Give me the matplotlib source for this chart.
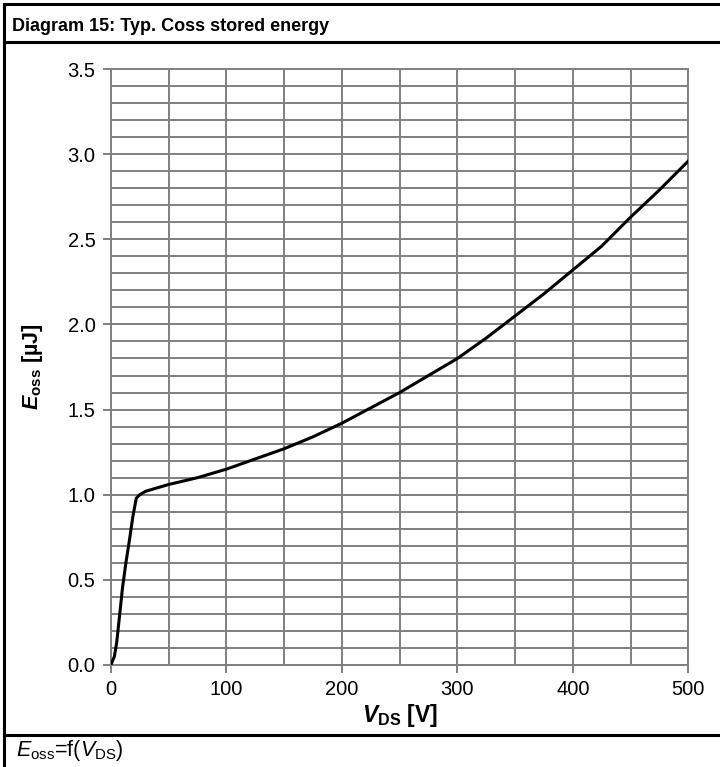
import matplotlib
matplotlib.use("Agg")
import matplotlib.pyplot as plt
from matplotlib.lines import Line2D
from matplotlib.ticker import MultipleLocator, FormatStrFormatter

plt.rcParams['font.family'] = ['Liberation Sans', 'DejaVu Sans']
plt.rcParams['mathtext.fontset'] = 'custom'
plt.rcParams['mathtext.rm'] = 'Liberation Sans'
plt.rcParams['mathtext.it'] = 'Liberation Sans:italic'
plt.rcParams['mathtext.bf'] = 'Liberation Sans:bold'
plt.rcParams['mathtext.bfit'] = 'Liberation Sans:bold:italic'

# Eoss vs VDS
vds = [0, 3, 5, 8, 10, 13, 16, 19, 22, 25, 30, 40, 50, 75, 100, 125, 150,
       175, 200, 225, 250, 275, 300, 325, 350, 375, 400, 425, 450, 475, 500]
eoss = [0.0, 0.05, 0.13, 0.32, 0.45, 0.60, 0.73, 0.87, 0.98, 1.00, 1.02,
        1.04, 1.06, 1.10, 1.15, 1.21, 1.27, 1.34, 1.42, 1.51, 1.60, 1.70,
        1.80, 1.92, 2.05, 2.18, 2.32, 2.46, 2.63, 2.79, 2.96]

title = "Diagram 15: Typ. Coss stored energy"
footer = r"$\mathit{E}_{\mathrm{oss}}$=f$\mathit{(V}_{\mathrm{DS}}\mathit{)}$"

fig = plt.figure(figsize=(7.2, 7.67), dpi=100)
ax = fig.add_axes([0.154, 0.133, 0.802, 0.777])

grid_c = "#808080"
ax.plot(vds, eoss, color="black", lw=2.2, zorder=5)

ax.set_xlim(0, 500)
ax.set_ylim(0, 3.5)
ax.xaxis.set_major_locator(MultipleLocator(100))
ax.xaxis.set_minor_locator(MultipleLocator(50))
ax.yaxis.set_major_locator(MultipleLocator(0.5))
ax.yaxis.set_minor_locator(MultipleLocator(0.1))
ax.yaxis.set_major_formatter(FormatStrFormatter("%.1f"))
ax.grid(which="both", color=grid_c, lw=1.4)
ax.set_axisbelow(True)
ax.tick_params(which="major", length=6, width=1.4, color=grid_c,
               labelsize=14.5, pad=5)
ax.tick_params(which="minor", length=0)
for s in ax.spines.values():
    s.set_color(grid_c)
    s.set_linewidth(1.4)

ax.set_xlabel(r"$\mathbfit{V}_{\mathbf{DS}}$ [V]", fontsize=16.5,
              fontweight="bold", labelpad=2)
ax.set_ylabel(r"$\mathbfit{E}_{\mathbf{oss}}$ [µJ]", fontsize=15.5,
              fontweight="bold", labelpad=16)

# frame around the diagram
for (x0, x1, y0, y1) in [(0.006, 1.0, 0.995, 0.995),
                         (0.006, 1.0, 0.945, 0.945),
                         (0.006, 1.0, 0.042, 0.042),
                         (0.006, 0.006, 0.0, 0.995)]:
    fig.add_artist(Line2D([x0, x1], [y0, y1], color="black", lw=2.2))

fig.text(0.017, 0.966, title, fontsize=13, fontweight="bold", va="center")
fig.text(0.022, 0.021, footer, fontsize=15.5, va="center")

fig.savefig("out.png", dpi=100)
